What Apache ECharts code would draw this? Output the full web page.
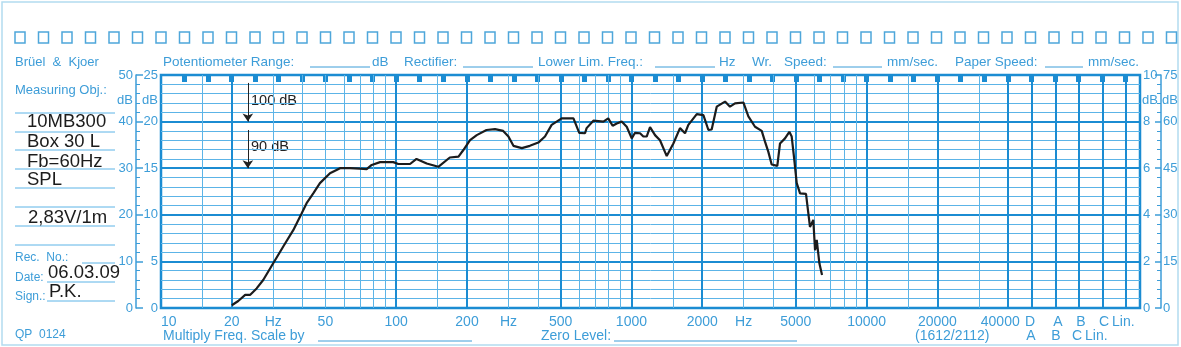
<!DOCTYPE html>
<html>
<head>
<meta charset="utf-8">
<script src="https://cdn.jsdelivr.net/npm/echarts@6/dist/echarts.min.js"></script>
<style>
body{margin:0;background:#fff;}
#main{width:1181px;height:347px;}
</style>
</head>
<body>
<div id="main"></div>
<script>
// 10MB300, Box 30 L, SPL at 2,83V/1m (level on the 0..50 dB scale)
var freqHz=[20,21.3,22.8,23.9,25.5,27.2,30,33.1,36.5,39.6,41.6,44.4,47.4,52.3,57.7,63.6,70,74.9,78.7,85.4,
  97.2,102,114.5,122,134.8,151,169,184,193,206,220,242,263,285,300,315,342,370,402,429,
  458,505,567,600,635,645,689,760,797,832,866,909,955,1003,1036,1088,1124,1161,1200,1260,
  1323,1413,1508,1609,1690,1746,1896,2023,2055,2125,2194,2305,2500,2625,2757,2992,3142,3354,3581,3698,
  3821,3947,4171,4283,4498,4693,4802,4909,5045,5211,5524,5743,5933,6036,6136,6297,6402,6463];
var levelDb=[0.6,1.5,2.8,2.8,4.2,6.0,9.6,13.2,16.7,20.3,22.5,24.6,26.8,28.9,30.0,30.0,29.9,29.8,30.7,31.3,
  31.3,30.9,30.9,32.0,31.0,30.3,32.3,32.5,33.9,36.0,37.1,38.2,38.4,38.0,36.8,34.8,34.3,34.8,35.5,36.8,
  39.3,40.7,40.7,37.6,37.5,38.6,40.2,40.0,40.7,39.1,39.6,40.0,38.9,36.4,37.6,37.5,36.8,36.8,38.8,37.1,
  36.0,32.6,35.3,38.6,37.5,39.3,41.6,41.4,41.1,38.2,38.3,43.2,44.3,43.2,43.9,44.1,41.1,38.9,38.0,35.7,
  33.5,30.8,30.5,35.3,36.4,37.8,36.8,32.5,26.8,24.6,24.5,17.4,18.9,12.4,14.6,9.6,9.4,7.1];

// tick labels / paper grid
var freqLabels=[10,20,30,50,100,200,300,500,1000,2000,3000,5000,10000,20000,40000];
var hzAt=[30,300,3000];
var thinLines=[15,30,40,50,60,70,80,90,150,300,400,600,700,800,900,1500,3000,4000,6000,7000,8000,9000,15000,30000];
var thickLines=[20,100,200,500,1000,2000,5000,10000,20000,40000];
var weightCols=['D','A','B','C','Lin.'];
var refArrows=[{name:'100 dB',from:48.3,to:40},{name:'90 dB',from:38.2,to:30}];
var arrowFreq=23.4;
var fMax=145300;

var thick='#1b8cd2', thin='#5cb4e7', txtBlue='#3d9dd8', ink='#1c1c1c';
var fnt='"Liberation Sans", Arial, sans-serif';

var myChart = echarts.init(document.getElementById('main'));

// columns past 40 kHz sit 0.1 decade apart
var colFreq=weightCols.map(function(c,i){return 40000*Math.pow(10,0.1*(i+1));});
var topTicks=[];
for(var k=11;k<=51;k++){topTicks.push(Math.pow(10,k/10));}

var gridLines=[];
thinLines.forEach(function(f){gridLines.push({xAxis:f,lineStyle:{color:thin,width:1,type:'solid'}});});
thickLines.concat(colFreq).forEach(function(f){gridLines.push({xAxis:f,lineStyle:{color:thick,width:2,type:'solid'}});});

var arrowLines=refArrows.map(function(a){
  return [{coord:[arrowFreq,a.from]},{coord:[arrowFreq,a.to]}];
});

function txt(x,y,s,size,color,align){
  return {type:'text',x:x,y:y,silent:true,style:{text:s,font:size+'px '+fnt,fill:color||txtBlue,
    align:align||'left',verticalAlign:'middle',textAlign:align||'left',textVerticalAlign:'middle'}};
}
function ln(x1,y1,x2,y2,color,w){
  return {type:'line',silent:true,shape:{x1:x1,y1:y1,x2:x2,y2:y2},style:{stroke:color||txtBlue,lineWidth:w||1}};
}

var g=[];
g.push({type:'rect',silent:true,shape:{x:2,y:2,width:1176,height:343},style:{fill:'none',stroke:'#b3dbf0',lineWidth:1.5}});
for(var sx=15;sx<1176;sx+=23.5){
  g.push({type:'rect',silent:true,shape:{x:sx,y:32,width:10,height:11},style:{fill:'none',stroke:'#4ea6da',lineWidth:1.5}});
}
// header
g.push(txt(15,62,'Brüel  &  Kjoer',13));
g.push(txt(163,62,'Potentiometer Range:',13.5));
g.push(ln(310,67,370,67));
g.push(txt(372,62,'dB',13.5));
g.push(txt(404,62,'Rectifier:',13.5));
g.push(ln(463,67,533,67));
g.push(txt(538,62,'Lower Lim. Freq.:',13.5));
g.push(ln(655,67,715,67));
g.push(txt(719,62,'Hz',13.5));
g.push(txt(752,62,'Wr.',13.5));
g.push(txt(784,62,'Speed:',13.5));
g.push(ln(833,67,882,67));
g.push(txt(887,62,'mm/sec.',13.5));
g.push(txt(955,62,'Paper Speed:',13.5));
g.push(ln(1045,67,1083,67));
g.push(txt(1088,62,'mm/sec.',13.5));
// left card
g.push(txt(15,90,'Measuring Obj.:',13));
[113,132,150,169,188,207,226,245].forEach(function(y){g.push(ln(15,y,115,y,thin,1));});
g.push(txt(27,122,'10MB300',18.5,ink));
g.push(txt(27,142,'Box 30 L',18.5,ink));
g.push(txt(27,162,'Fb=60Hz',18.5,ink));
g.push(txt(27,180,'SPL',18.5,ink));
g.push(txt(28,218,'2,83V/1m',18.5,ink));
g.push(txt(15,258,'Rec.  No.:',12));
g.push(ln(82,263,115,263,thin,1));
g.push(txt(15,278,'Date:',12));
g.push(ln(47,282,115,282,thin,1));
g.push(txt(15,297,'Sign.:',12));
g.push(ln(47,301,115,301,thin,1));
g.push(txt(48,273,'06.03.09',18.5,ink));
g.push(txt(49,292,'P.K.',18.5,ink));
g.push(txt(15,335,'QP  0124',12));
// dB units
g.push(txt(133,100,'dB',13,txtBlue,'right'));
g.push(txt(158,100,'dB',13,txtBlue,'right'));
g.push(txt(1142,100,'dB',13));
g.push(txt(1162,100,'dB',13));
// reference arrows text
g.push(txt(251,101,refArrows[0].name,14.5,'#222'));
g.push(txt(251,147,refArrows[1].name,14.5,'#222'));
// bottom
g.push(txt(1030,322,weightCols[0],14,txtBlue,'center'));
g.push(txt(1058,322,weightCols[1],14,txtBlue,'center'));
g.push(txt(1081,322,weightCols[2],14,txtBlue,'center'));
g.push(txt(1104,322,weightCols[3],14,txtBlue,'center'));
g.push(txt(1112,322,weightCols[4],14));
g.push(txt(1031,336,weightCols[1],14,txtBlue,'center'));
g.push(txt(1056,336,weightCols[2],14,txtBlue,'center'));
g.push(txt(1077,336,weightCols[3],14,txtBlue,'center'));
g.push(txt(1085,336,weightCols[4],14));
g.push(txt(915,336,'(1612/2112)',14));
g.push(txt(163,336,'Multiply Freq. Scale by',14));
g.push(ln(318,341,472,341));
g.push(txt(541,336,'Zero Level:',14));
g.push(ln(614,341,797,341));

var option = {
  animation:false,
  backgroundColor:'#fff',
  grid:{left:161,top:75,width:979,height:233,show:true,borderColor:thick,borderWidth:2.5,backgroundColor:'transparent'},
  xAxis:[{
    type:'log',logBase:10,min:10,max:fMax,position:'bottom',
    axisLine:{show:false,onZero:false},axisTick:{show:false},splitLine:{show:false},
    axisLabel:{customValues:freqLabels,alignMinLabel:'left',margin:7,color:txtBlue,fontSize:14,fontFamily:fnt,
      rich:{s:{fontSize:14,fontFamily:fnt,color:txtBlue,padding:[0,16,0,0]}},
      formatter:function(v){
        var r=Math.round(v);
        if(hzAt.indexOf(r)>=0){return 'Hz';}
        if(r===40000){return '{s|'+r+'}';}
        return String(r);
      }}
  },{
    type:'log',logBase:10,min:10,max:fMax,position:'top',
    axisLine:{show:false,onZero:false},splitLine:{show:false},axisLabel:{show:false},
    axisTick:{show:true,inside:true,length:7,customValues:topTicks,lineStyle:{color:thick,width:5}}
  }],
  yAxis:[{
    type:'value',min:0,max:50,interval:10,position:'left',offset:25,
    axisLine:{show:true,onZero:false,lineStyle:{color:txtBlue,width:1.5}},
    axisTick:{show:true,inside:true,length:7,lineStyle:{color:txtBlue,width:1.5}},
    minorTick:{show:true,splitNumber:5,length:4,lineStyle:{color:txtBlue,width:1}},
    axisLabel:{margin:3,color:txtBlue,fontSize:13,fontFamily:fnt},
    splitLine:{show:true,lineStyle:{color:thick,width:2}},
    minorSplitLine:{show:true,lineStyle:{color:thin,width:1}}
  },{
    type:'value',min:0,max:25,interval:5,position:'left',offset:0,
    axisLine:{show:false,onZero:false},axisTick:{show:false},splitLine:{show:false},
    axisLabel:{margin:3,color:txtBlue,fontSize:13,fontFamily:fnt}
  },{
    type:'value',min:0,max:10,interval:2,position:'right',offset:0,
    axisLine:{show:false,onZero:false},axisTick:{show:false},splitLine:{show:false},
    axisLabel:{margin:3,color:txtBlue,fontSize:13,fontFamily:fnt}
  },{
    type:'value',min:0,max:75,interval:15,position:'right',offset:21,
    axisLine:{show:true,onZero:false,lineStyle:{color:txtBlue,width:1.5}},
    axisTick:{show:true,inside:true,length:6,lineStyle:{color:txtBlue,width:1.5}},
    minorTick:{show:true,splitNumber:5,length:4,lineStyle:{color:txtBlue,width:1}},
    splitLine:{show:false},
    axisLabel:{margin:2,color:txtBlue,fontSize:13,fontFamily:fnt}
  }],
  series:[{
    type:'line',data:[],z:1,silent:true,
    markLine:{silent:true,symbol:['none','none'],label:{show:false},data:gridLines}
  },{
    type:'line',data:[],z:4,silent:true,
    markLine:{silent:true,symbol:['none','arrow'],symbolSize:8,label:{show:false},
      lineStyle:{color:'#222',width:1,type:'solid'},itemStyle:{color:'#222'},data:arrowLines}
  },{
    name:'SPL',type:'line',z:5,
    data:freqHz.map(function(f,i){return [f,levelDb[i]];}),
    symbol:'none',showSymbol:false,
    lineStyle:{color:ink,width:2.2}
  }],
  graphic:g
};

myChart.setOption(option);
</script>
</body>
</html>
